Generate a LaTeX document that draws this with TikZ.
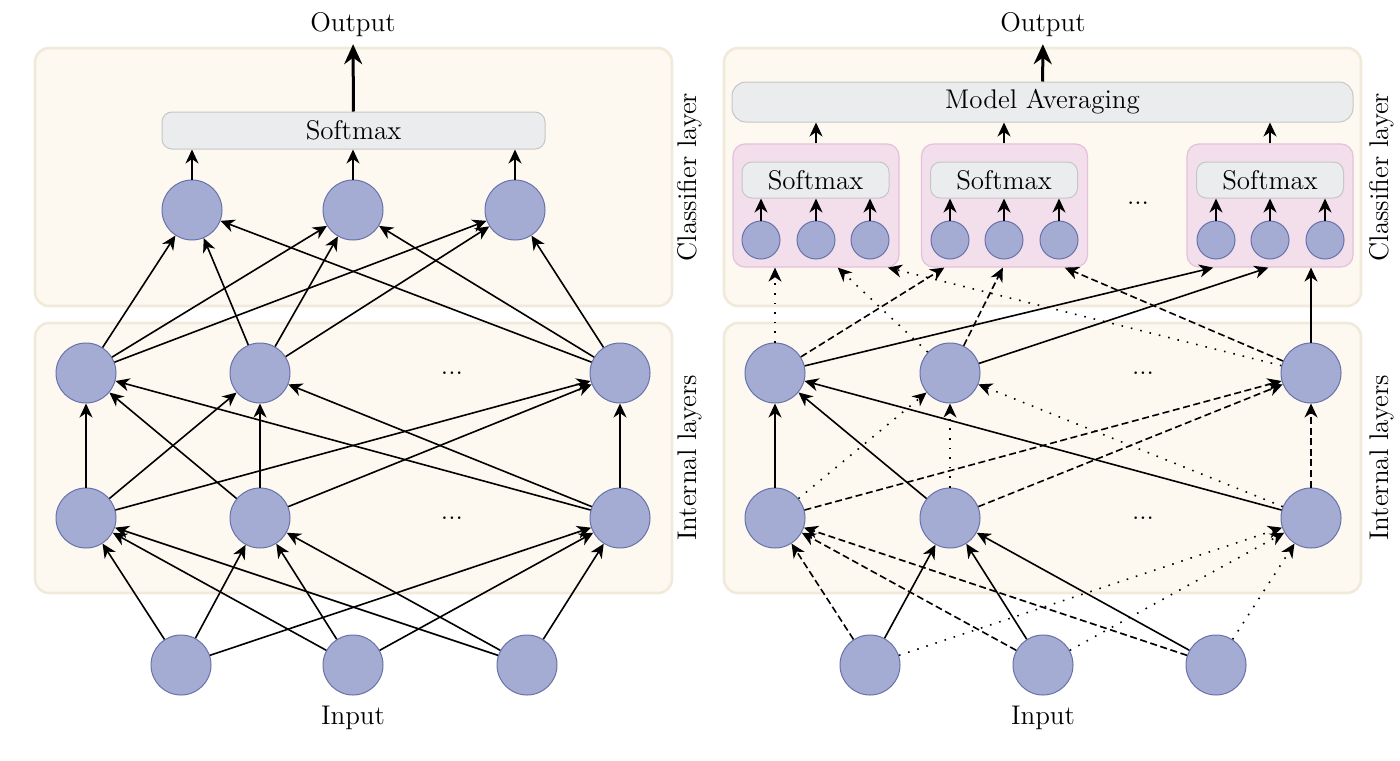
\documentclass[tikz,border=0pt]{standalone}
\usetikzlibrary{arrows.meta,calc}
\definecolor{fond}{RGB}{253,249,240}
\definecolor{fondbord}{RGB}{241,234,219}
\definecolor{neur}{RGB}{164,172,211}
\definecolor{neurbord}{RGB}{104,114,170}
\definecolor{gris}{RGB}{235,236,237}
\definecolor{grisbord}{RGB}{198,198,198}
\definecolor{rose}{RGB}{243,222,236}
\definecolor{rosebord}{RGB}{228,192,217}
\newcommand{\taille}{\fontsize{13.5}{16}\selectfont}
\newcommand{\neurone}[3]{\node[neu] (#1) at (#2,#3) {}}
\newcommand{\petit}[3]{\node[pneu] (#1) at (#2,#3) {}}
\newcommand{\couche}[4]{\draw[couche] (#1,#2) rectangle (#3,#4)}
\newcommand{\fleche}[3][]{\draw[lien,#1] (#2) -- (#3)}

\begin{document}
\begin{tikzpicture}[x=0.5pt, y=-0.5pt,
	neu/.style={circle, fill=neur, draw=neurbord, line width=0.5pt, minimum size=30pt, inner sep=0pt},
	pneu/.style={neu, minimum size=19pt},
	boite/.style={fill=gris, draw=grisbord, line width=0.5pt, rounded corners=5pt, font=\taille, inner sep=0pt},
	rosebox/.style={fill=rose, draw=rosebord, line width=0.6pt, rounded corners=6pt, minimum width=83pt, minimum height=61.5pt},
	couche/.style={fill=fond, draw=fondbord, line width=1.3pt, rounded corners=7pt},
	texte/.style={font=\taille},
	lien/.style={line width=0.8pt, -{Stealth[length=7pt,width=6.5pt,inset=2.2pt]}},
	sortie/.style={line width=1.5pt, -{Stealth[length=10pt,width=9pt]}},
	tirets/.style={dash pattern=on 3.5pt off 1.8pt},
	pointille/.style={dash pattern=on 0.8pt off 4pt}]
\useasboundingbox (0,0) rectangle (1400,760);
%Layers
	\couche{35}{48}{672}{306};
	\couche{35}{323}{672}{593};
	\couche{724}{48}{1361}{306};
	\couche{724}{323}{1361}{593};
	\node[texte, rotate=90] (Llc) at (690,177) {Classifier layer};
	\node[texte, rotate=90] (Lli) at (690,458) {Internal layers};
	\node[texte, rotate=90] (Rlc) at (1382,177) {Classifier layer};
	\node[texte, rotate=90] (Rli) at (1382,458) {Internal layers};
%The first network
	\node[texte] (Lout) at (353,25) {Output};
	\node[boite, minimum width=191.5pt, minimum height=18.5pt] (Lsm) at (353.5,130.5) {Softmax};
	\neurone{Lc1}{192}{210};
	\neurone{Lc2}{353}{210};
	\neurone{Lc3}{515}{210};
	\neurone{Lh1}{86}{373};
	\neurone{Lh2}{260}{373};
	\neurone{Lh3}{620}{373};
	\neurone{Lb1}{86}{518};
	\neurone{Lb2}{260}{518};
	\neurone{Lb3}{620}{518};
	\neurone{Lin1}{181}{665};
	\neurone{Lin2}{353}{665};
	\neurone{Lin3}{527}{665};
	\node[texte] (Ld1) at (452,373) {...};
	\node[texte] (Ld2) at (452,518) {...};
	\node[texte] (Lin) at (353,718) {Input};
	\draw[sortie] (Lsm) -- (Lout);
	\fleche{Lc1}{Lc1 |- Lsm.south};
	\fleche{Lc2}{Lc2 |- Lsm.south};
	\fleche{Lc3}{Lc3 |- Lsm.south};
	\fleche{Lh1}{Lc1};
	\fleche{Lh1}{Lc2};
	\fleche{Lh1}{Lc3};
	\fleche{Lh2}{Lc1};
	\fleche{Lh2}{Lc2};
	\fleche{Lh2}{Lc3};
	\fleche{Lh3}{Lc1};
	\fleche{Lh3}{Lc2};
	\fleche{Lh3}{Lc3};
	\fleche{Lb1}{Lh1};
	\fleche{Lb1}{Lh2};
	\fleche{Lb1}{Lh3};
	\fleche{Lb2}{Lh1};
	\fleche{Lb2}{Lh2};
	\fleche{Lb2}{Lh3};
	\fleche{Lb3}{Lh1};
	\fleche{Lb3}{Lh2};
	\fleche{Lb3}{Lh3};
	\fleche{Lin1}{Lb1};
	\fleche{Lin1}{Lb2};
	\fleche{Lin1}{Lb3};
	\fleche{Lin2}{Lb1};
	\fleche{Lin2}{Lb2};
	\fleche{Lin2}{Lb3};
	\fleche{Lin3}{Lb1};
	\fleche{Lin3}{Lb2};
	\fleche{Lin3}{Lb3};
%The second network
	\node[texte] (Rout) at (1043,25) {Output};
	\node[boite, minimum width=310.5pt, minimum height=20pt, rounded corners=7pt] (Rma) at (1042.5,102) {Model Averaging};
	\node[rosebox] (Rp1) at (816,205.5) {};
	\node[rosebox] (Rp2) at (1004.5,205.5) {};
	\node[rosebox] (Rp3) at (1270,205.5) {};
	\node[boite, minimum width=73.5pt, minimum height=18pt] (Rsm1) at (815.5,180) {Softmax};
	\node[boite, minimum width=73.5pt, minimum height=18pt] (Rsm2) at (1004,180) {Softmax};
	\node[boite, minimum width=73.5pt, minimum height=18pt] (Rsm3) at (1270,180) {Softmax};
	\petit{Rs1a}{761}{240};
	\petit{Rs1b}{816}{240};
	\petit{Rs1c}{870}{240};
	\petit{Rs2a}{950}{240};
	\petit{Rs2b}{1004}{240};
	\petit{Rs2c}{1059}{240};
	\petit{Rs3a}{1216}{240};
	\petit{Rs3b}{1270}{240};
	\petit{Rs3c}{1325}{240};
	\node[texte] (Rdp) at (1138,203) {...};
	\neurone{Rh1}{775}{373};
	\neurone{Rh2}{950}{373};
	\neurone{Rh3}{1311}{373};
	\neurone{Rb1}{775}{518};
	\neurone{Rb2}{950}{518};
	\neurone{Rb3}{1311}{518};
	\neurone{Rin1}{870}{665};
	\neurone{Rin2}{1043}{665};
	\neurone{Rin3}{1216}{665};
	\node[texte] (Rd1) at (1143,373) {...};
	\node[texte] (Rd2) at (1143,518) {...};
	\node[texte] (Rin) at (1043,718) {Input};
	\draw[sortie] (Rma) -- (Rout);
	\draw[lien] (Rs1b |- Rp1.north) -- (Rs1b |- Rma.south);
	\draw[lien] (Rs2b |- Rp2.north) -- (Rs2b |- Rma.south);
	\draw[lien] (Rs3b |- Rp3.north) -- (Rs3b |- Rma.south);
	\fleche{Rs1a}{Rs1a |- Rsm1.south};
	\fleche{Rs1b}{Rs1b |- Rsm1.south};
	\fleche{Rs1c}{Rs1c |- Rsm1.south};
	\fleche{Rs2a}{Rs2a |- Rsm2.south};
	\fleche{Rs2b}{Rs2b |- Rsm2.south};
	\fleche{Rs2c}{Rs2c |- Rsm2.south};
	\fleche{Rs3a}{Rs3a |- Rsm3.south};
	\fleche{Rs3b}{Rs3b |- Rsm3.south};
	\fleche{Rs3c}{Rs3c |- Rsm3.south};
	%dotted to the first box, dashed to the second, plain to the third
	\fleche[pointille]{Rh1}{Rh1 |- Rp1.south};
	\fleche[pointille]{Rh2}{$(Rp1.south west)!0.63!(Rp1.south east)$};
	\fleche[pointille]{Rh3}{$(Rp1.south west)!0.93!(Rp1.south east)$};
	\fleche[tirets]{Rh1}{$(Rp2.south west)!0.14!(Rp2.south east)$};
	\fleche[tirets]{Rh2}{$(Rp2.south west)!0.49!(Rp2.south east)$};
	\fleche[tirets]{Rh3}{$(Rp2.south west)!0.86!(Rp2.south east)$};
	\fleche{Rh1}{$(Rp3.south west)!0.16!(Rp3.south east)$};
	\fleche{Rh2}{$(Rp3.south west)!0.49!(Rp3.south east)$};
	\fleche{Rh3}{Rh3 |- Rp3.south};
	\fleche{Rb1}{Rh1};
	\fleche{Rb2}{Rh1};
	\fleche{Rb3}{Rh1};
	\fleche[pointille]{Rb1}{Rh2};
	\fleche[pointille]{Rb2}{Rh2};
	\fleche[pointille]{Rb3}{Rh2};
	\fleche[tirets]{Rb1}{Rh3};
	\fleche[tirets]{Rb2}{Rh3};
	\fleche[tirets]{Rb3}{Rh3};
	\fleche[tirets]{Rin1}{Rb1};
	\fleche[tirets]{Rin2}{Rb1};
	\fleche[tirets]{Rin3}{Rb1};
	\fleche{Rin1}{Rb2};
	\fleche{Rin2}{Rb2};
	\fleche{Rin3}{Rb2};
	\fleche[pointille]{Rin1}{Rb3};
	\fleche[pointille]{Rin2}{Rb3};
	\fleche[pointille]{Rin3}{Rb3};
\end{tikzpicture}
\end{document}
